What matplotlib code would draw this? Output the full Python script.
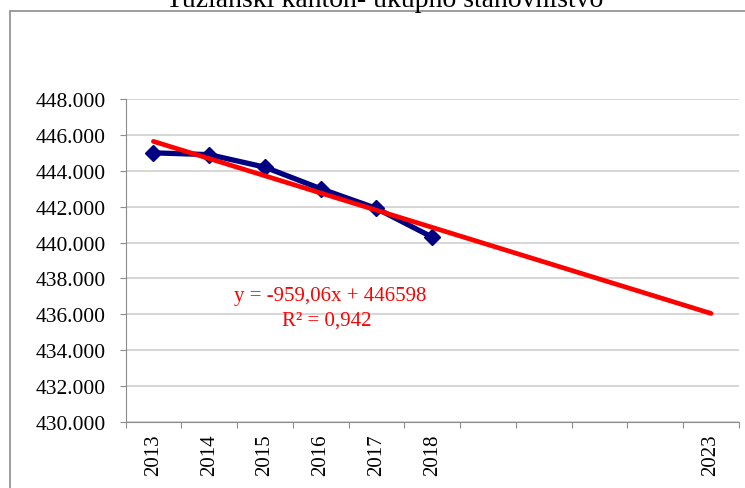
import numpy as np
import matplotlib
matplotlib.use('Agg')
from matplotlib import pyplot as plt
from matplotlib import ticker
from matplotlib.patches import Rectangle

plt.rcParams['font.family'] = ['Liberation Serif', 'DejaVu Serif']

# data
years = ['2013', '2014', '2015', '2016', '2017', '2018', '', '', '', '', '2023']
population = [445000, 444900, 444200, 443000, 441900, 440300]
trend_slope = -959.06
trend_intercept = 446598
title = 'Tuzlanski kanton- ukupno stanovništvo'
eq_line = 'y = -959,06x + 446598'
r2_line = 'R² = 0,942'

W, H = 745, 489
fig = plt.figure(figsize=(W/100, H/100), dpi=100)
ax = fig.add_axes([125.5/W, 1 - 423/H, (739 - 125.5)/W, (423 - 100)/H])

# chart area border (runs off the right and bottom edge)
fig.patches.append(Rectangle((10/W, -0.1), 1.0, (H - 12)/H + 0.1,
                             transform=fig.transFigure, fill=False,
                             edgecolor='#8c8c8c', linewidth=1.2))

x_pos = np.arange(1, len(years) + 1)
x_data = x_pos[:len(population)]
ax.plot(x_data, population, color='#000080', linewidth=3.8, marker='D',
        markersize=8.5, zorder=3)

x_trend = np.array([x_pos[0], x_pos[-1]])
ax.plot(x_trend, trend_slope*x_trend + trend_intercept, color='#ff0000',
        linewidth=3.4, solid_capstyle='round', zorder=4)

fig.text(330/W, 1 - 301/H, eq_line, color='#ff0000', fontsize=15,
         ha='center', va='baseline')
fig.text(327/W, 1 - 326/H, r2_line, color='#ff0000', fontsize=15,
         ha='center', va='baseline')

ax.set_xlim(0.5, len(years) + 0.5)
ax.set_ylim(430000, 448000)
ax.yaxis.set_major_locator(ticker.MultipleLocator(2000))
ax.yaxis.set_major_formatter(ticker.FuncFormatter(lambda v, p: f'{int(v):,}'.replace(',', '.')))
ax.grid(axis='y', color='#d0d0d0', linewidth=1.2)
ax.set_axisbelow(True)

# ticks between categories, labels at category centres
ax.set_xticks(np.arange(0.5, len(years) + 1, 1.0))
ax.set_xticklabels([])
ax.set_xticks(x_pos, minor=True)
ax.set_xticklabels(years, minor=True, rotation=90, fontsize=15)
ax.tick_params(axis='x', which='major', length=4, color='#8c8c8c', direction='out')
ax.tick_params(axis='x', which='minor', length=0, pad=8)
ax.tick_params(axis='y', length=4, color='#8c8c8c', labelsize=15.5, pad=10)

for side in ['top', 'right']:
    ax.spines[side].set_visible(False)
for side in ['left', 'bottom']:
    ax.spines[side].set_color('#8c8c8c')

fig.text(385/W, 1 - 7/H, title, ha='center', va='baseline', fontsize=20)

fig.savefig('out.png', dpi=100)
